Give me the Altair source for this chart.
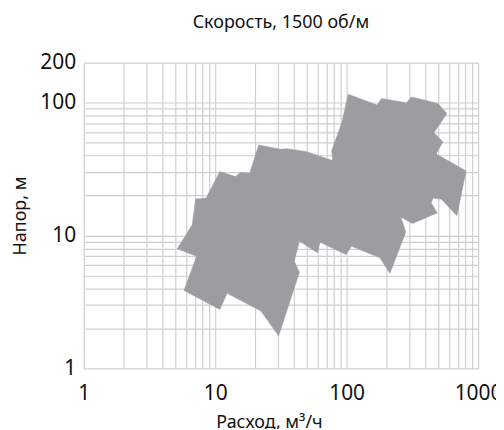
import altair as alt
import pandas as pd

# polygon outline of the pump range (flow m3/h, head m), clockwise
flow = [5.15, 6.69, 7.10, 8.55, 10.85, 14.27, 15.57, 18.32, 21.43, 31.29, 35.12, 49.77,
        78.3, 76.96, 91.65, 103.0, 170.8, 184.1, 284.8, 310.8, 495.1, 579.3, 461.7, 540.3,
        480.6, 811.3, 689.6, 524.4, 453.7, 440.5, 489.1, 316.2, 258.3, 281.8, 213.2, 179.1,
        109.1, 99.0, 62.9, 60.0, 43.8, 39.96, 43.8, 30.4, 22.3, 12.33, 10.85, 5.79, 7.23]
head = [7.94, 12.07, 18.81, 19.13, 30.29, 27.79, 29.77, 29.46, 48.03, 44.6, 45.05, 42.78,
        36.62, 43.5, 69.86, 115.8, 95.8, 107.5, 99.7, 110.5, 98.6, 83.0, 59.4, 50.8,
        41.1, 30.65, 14.1, 18.8, 19.1, 17.6, 14.8, 12.3, 13.8, 10.6, 5.18, 6.79,
        8.30, 7.19, 8.89, 7.41, 9.05, 6.41, 5.30, 1.756, 2.70, 3.67, 2.78, 3.86, 6.99]

x_grid = [1, 2, 3, 4, 5, 6, 7, 8, 9, 10, 20, 30, 40, 50, 60, 70, 80, 90,
          100, 200, 300, 400, 500, 600, 700, 800, 900, 1000]
y_grid = [1, 2, 3, 4, 5, 6, 7, 8, 9, 10, 20, 30, 40, 50, 60, 70, 80, 90, 100, 200]
x_labels = [1, 10, 100, 1000]
y_labels = [1, 10, 100, 200]

title_text = "Скорость, 1500 об/м"
x_title = "Расход, м³/ч"
y_title = "Напор, м"

pts = list(zip(flow, head))
pts.append(pts[0])
df = pd.DataFrame({"q": [p[0] for p in pts], "h": [p[1] for p in pts],
                   "i": list(range(len(pts)))})

FONT = "Noto Sans"
fill_col = "#9c9da1"

def lab_expr(vals):
    return "indexof([" + ",".join(str(v) for v in vals) + "], datum.value) >= 0 ? format(datum.value, 'd') : ''"

chart = alt.Chart(df).mark_line(fill=fill_col, stroke=fill_col, strokeWidth=0.5).encode(
    x=alt.X("q:Q",
            scale=alt.Scale(type="log", domain=[1, 1000], nice=False),
            axis=alt.Axis(values=x_grid, labelExpr=lab_expr(x_labels), labelOverlap=False,
                          title=x_title, titleX=186, titlePadding=10,
                          labelPadding=14, labelFlush=False)),
    y=alt.Y("h:Q",
            scale=alt.Scale(type="log", domain=[1, 200], nice=False),
            axis=alt.Axis(values=y_grid, labelExpr=lab_expr(y_labels), labelOverlap=False,
                          title=y_title, titlePadding=10, labelPadding=8, labelFlush=False)),
    order="i:Q",
).properties(
    width=396, height=307,
    padding={"left": 76, "top": 54, "right": 18, "bottom": 60},
    autosize=alt.AutoSizeParams(type="none"),
    title=alt.TitleParams(title_text, fontSize=18, font=FONT, fontWeight="normal",
                          color="#111111", anchor="middle", offset=20),
).configure_axis(
    domain=False, ticks=False, grid=True, gridColor="#cfcfcf", gridWidth=1.2,
    labelFont=FONT, labelFontSize=21, labelColor="#111111",
    titleFont=FONT, titleFontSize=18, titleFontWeight="normal", titleColor="#111111",
).configure_view(stroke=None)

chart.save("out.html", embed_options={"renderer": "svg", "actions": False})
